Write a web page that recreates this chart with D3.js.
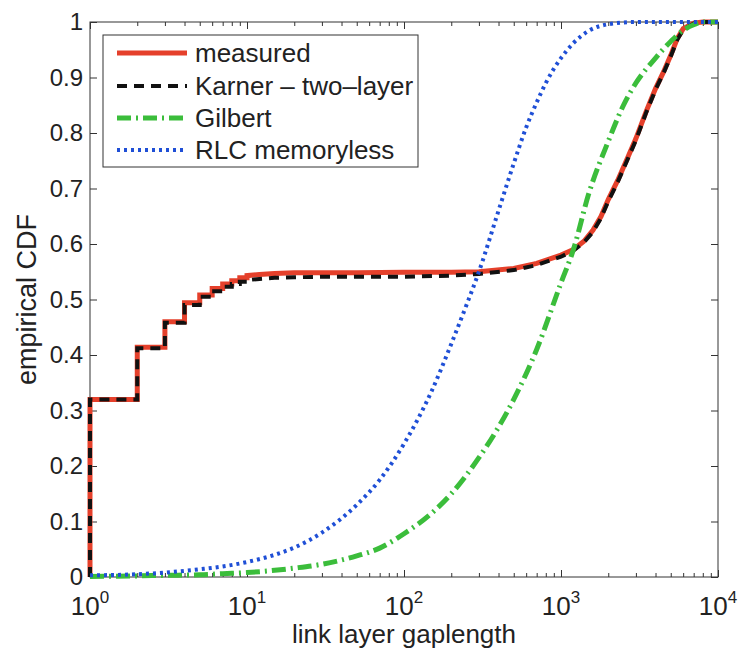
<!DOCTYPE html>
<html>
<head>
<meta charset="utf-8">
<script src="https://cdnjs.cloudflare.com/ajax/libs/d3/7.8.5/d3.min.js"></script>
<style>
  body { margin: 0; background: #fff; }
  text { font-family: "Liberation Sans", Arial, sans-serif; fill: #222; }
</style>
</head>
<body>
<div id="chart"></div>
<script>
      // step part of the empirical CDF (gaplength 1..10)
      var stepX = [1, 2, 3, 4, 5, 6, 7, 8, 9, 10];
      var measuredStep = [0.32, 0.414, 0.46, 0.494, 0.508, 0.52, 0.528, 0.534, 0.539, 0.543];
      var karnerStep   = [0.32, 0.412, 0.458, 0.49, 0.505, 0.515, 0.523, 0.528, 0.532, 0.535];

      // smooth part after 10
      var tailX = [12, 15, 20, 30, 50, 100, 200, 300, 500, 700, 1000, 1200, 1400, 1600, 1800,
                   2000, 2300, 2700, 3000, 3500, 4000, 4500, 5000, 5500, 6000, 7000, 8000, 10000];
      var measuredTail = [0.545, 0.547, 0.548, 0.548, 0.548, 0.549, 0.549, 0.55, 0.556, 0.565, 0.58, 0.59, 0.605, 0.625, 0.65,
                          0.68, 0.715, 0.76, 0.79, 0.84, 0.88, 0.91, 0.94, 0.97, 0.988, 0.998, 1, 1];
      var karnerTail   = [0.537, 0.539, 0.54, 0.541, 0.541, 0.541, 0.543, 0.546, 0.553, 0.562, 0.577, 0.588, 0.603, 0.622, 0.647,
                          0.677, 0.712, 0.757, 0.787, 0.838, 0.878, 0.908, 0.938, 0.968, 0.986, 0.997, 1, 1];

      var gilbertX = [1, 2, 3, 5, 7, 10, 15, 20, 30, 50, 70, 100, 150, 200, 300, 400, 500, 700, 1000, 1200,
                      1500, 2000, 2500, 3000, 4000, 5000, 6000, 7000, 8000, 10000];
      var gilbertY = [0.001, 0.002, 0.003, 0.004, 0.006, 0.008, 0.012, 0.016, 0.023, 0.038, 0.052, 0.078, 0.115, 0.15, 0.215, 0.27, 0.32, 0.41, 0.53, 0.59,
                      0.69, 0.785, 0.85, 0.89, 0.935, 0.965, 0.985, 0.995, 1, 1];

      var rlcX = [1, 2, 3, 5, 7, 10, 15, 20, 30, 50, 70, 100, 150, 200, 250, 300, 400, 500, 600, 700, 800,
                  1000, 1200, 1500, 2000, 3000, 10000];
      var rlcY = [0.003, 0.005, 0.008, 0.014, 0.019, 0.027, 0.04, 0.053, 0.08, 0.13, 0.175, 0.24, 0.335, 0.42, 0.49, 0.55, 0.66, 0.745, 0.81, 0.855, 0.89,
                  0.935, 0.962, 0.984, 0.996, 1, 1];

      var yTicks = [0, 0.1, 0.2, 0.3, 0.4, 0.5, 0.6, 0.7, 0.8, 0.9, 1];
      var xDecades = [1, 10, 100, 1000, 10000];
      var xExponents = ["0", "1", "2", "3", "4"];
      var legendLabels = ["measured", "Karner \u2013 two\u2013layer", "Gilbert", "RLC memoryless"];

      var width = 740;
      var height = 650;
      var plotLeft = 90, plotRight = 718, plotTop = 22, plotBottom = 577;
      var font = '"Liberation Sans", Arial, sans-serif';

      var svg = d3.select('#chart').append('svg')
          .attr('width', width)
          .attr('height', height)

      var xScale = d3.scaleLog().domain([1, 10000]).range([plotLeft, plotRight])
      var yScale = d3.scaleLinear().domain([0, 1]).range([plotBottom, plotTop])

      // minor ticks 2..9 in every decade
      var minorTicks = [];
      xDecades.slice(0, -1).forEach(function (d) {
            for (var k = 2; k < 10; k++) minorTicks.push(d * k);
      });

      // box
      svg.append('rect')
            .attr('x', plotLeft).attr('y', plotTop)
            .attr('width', plotRight - plotLeft).attr('height', plotBottom - plotTop)
            .attr('fill', 'none').attr('stroke', '#333').attr('stroke-width', 1)

      function tickAxis(axis, tx, ty, values, size) {
            var g = svg.append('g')
                  .attr('transform', 'translate(' + tx + ',' + ty + ')')
                  .call(axis.tickValues(values).tickSize(size).tickFormat(''))
            g.select('.domain').remove()
            g.selectAll('line').attr('stroke', '#333')
            return g
      }
      tickAxis(d3.axisBottom(xScale), 0, plotBottom, xDecades, -7)
      tickAxis(d3.axisBottom(xScale), 0, plotBottom, minorTicks, -4)
      tickAxis(d3.axisTop(xScale), 0, plotTop, xDecades, -7)
      tickAxis(d3.axisTop(xScale), 0, plotTop, minorTicks, -4)
      tickAxis(d3.axisRight(yScale), plotRight, 0, yTicks, -7)

      var yAxis = svg.append('g')
            .attr('transform', 'translate(' + plotLeft + ',0)')
            .call(d3.axisLeft(yScale).tickValues(yTicks).tickSize(-7).tickPadding(7)
                  .tickFormat(function (d) { return (d === 0 || d === 1) ? String(d) : d.toFixed(1); }))
      yAxis.select('.domain').remove()
      yAxis.selectAll('line').attr('stroke', '#333')
      yAxis.selectAll('text').attr('font-size', 24).attr('font-family', font).attr('fill', '#222')

      // x tick labels 10^k
      var xl = svg.append('g').selectAll('text')
            .data(xDecades)
            .enter()
            .append('text')
                  .attr('x', d => xScale(d))
                  .attr('y', 615)
                  .attr('text-anchor', 'middle')
                  .attr('font-size', 26)
      xl.append('tspan').text('10')
      xl.append('tspan').attr('dy', -12).attr('font-size', 17).text((d, i) => xExponents[i])

      // axis titles
      svg.append('text')
            .attr('x', (plotLeft + plotRight) / 2)
            .attr('y', 643)
            .attr('text-anchor', 'middle')
            .attr('font-size', 26)
            .text('link layer gaplength')

      svg.append('text')
            .attr('transform', 'rotate(-90)')
            .attr('x', -(plotTop + plotBottom) / 2)
            .attr('y', 36)
            .attr('text-anchor', 'middle')
            .attr('font-size', 27)
            .text('empirical CDF')

      // build the staircase from the step values, then join the smooth tail
      function cdfPoints(stepVals, tailVals) {
            var pts = [[stepX[0], 0]];
            stepX.forEach(function (x, i) {
                  if (i > 0) pts.push([x, stepVals[i - 1]]);
                  pts.push([x, stepVals[i]]);
            });
            tailX.forEach(function (x, i) { pts.push([x, tailVals[i]]); });
            return pts;
      }

      var line = d3.line()
            .x(d => xScale(d[0]))
            .y(d => yScale(d[1]))

      var series = [
            { pts: cdfPoints(measuredStep, measuredTail), color: '#e5402b', w: 5, dash: null, curve: d3.curveLinear },
            { pts: cdfPoints(karnerStep, karnerTail), color: '#111', w: 4, dash: '10,7', curve: d3.curveLinear },
            { pts: gilbertX.map((x, i) => [x, gilbertY[i]]), color: '#3bbd3b', w: 5, dash: '14,5,2,5', curve: d3.curveMonotoneX },
            { pts: rlcX.map((x, i) => [x, rlcY[i]]), color: '#1f4fd6', w: 4, dash: '3,4', curve: d3.curveMonotoneX }
      ];

      var plot = svg.append('g')
      series.forEach(function (s) {
            plot.append('path')
                  .attr('d', line.curve(s.curve)(s.pts))
                  .attr('fill', 'none')
                  .attr('stroke', s.color)
                  .attr('stroke-width', s.w)
                  .attr('stroke-dasharray', s.dash)
      });

      // legend
      var lg = svg.append('g')
      lg.append('rect')
            .attr('x', 103).attr('y', 35)
            .attr('width', 315).attr('height', 132)
            .attr('fill', '#fff').attr('stroke', '#333').attr('stroke-width', 1)
      var rows = [53, 86, 118, 150];
      series.forEach(function (s, i) {
            lg.append('line')
                  .attr('x1', 117).attr('x2', 187)
                  .attr('y1', rows[i]).attr('y2', rows[i])
                  .attr('stroke', s.color)
                  .attr('stroke-width', s.w)
                  .attr('stroke-dasharray', s.dash)
            lg.append('text')
                  .attr('x', 195).attr('y', rows[i])
                  .attr('dy', '0.35em')
                  .attr('font-size', 26)
                  .text(legendLabels[i])
      });
</script>
</body>
</html>
